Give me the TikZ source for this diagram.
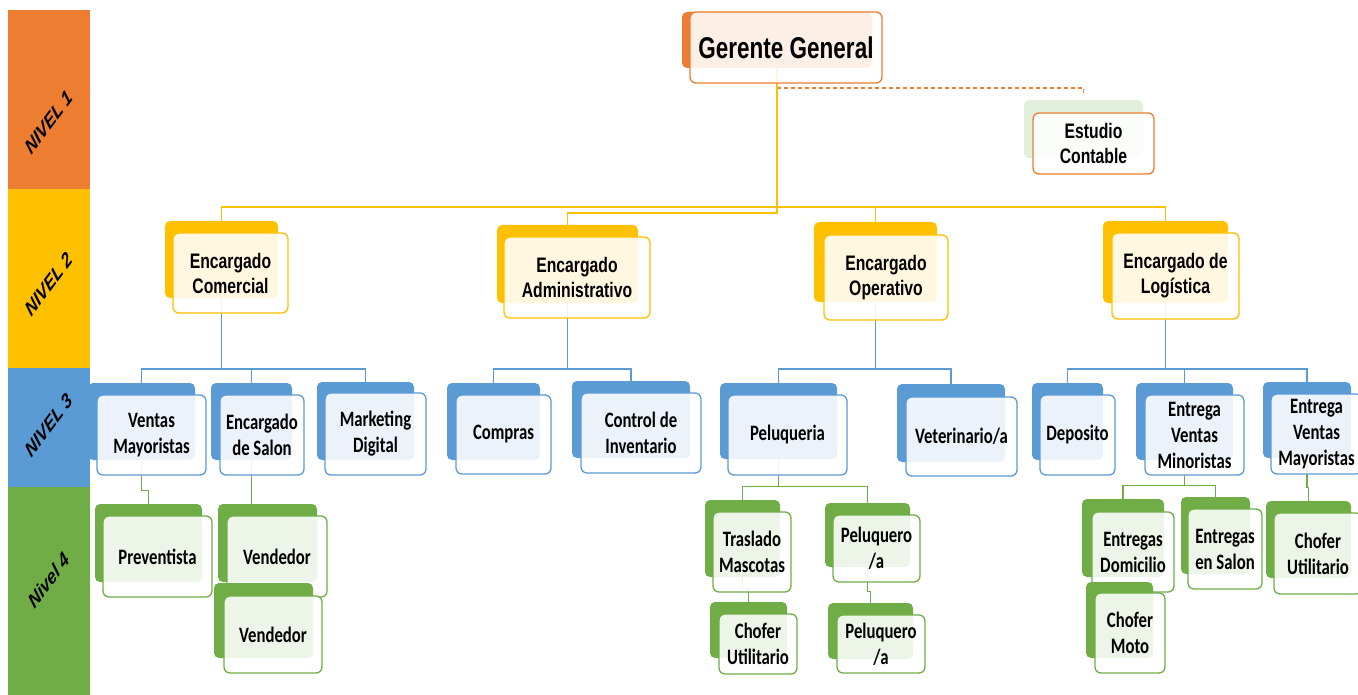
\documentclass[tikz,border=0pt]{standalone}
\usepackage{fontspec}
\usetikzlibrary{fit,calc,backgrounds}
\newfontfamily\arn{Liberation Sans}[FakeStretch=0.75]
\newfontfamily\calib{Carlito}[FakeStretch=0.76]
\newfontfamily\arialf{Liberation Sans}
\definecolor{cor}{HTML}{ED7D31}
\definecolor{cye}{HTML}{FFC000}
\definecolor{cbl}{HTML}{5B9BD5}
\definecolor{cgr}{HTML}{70AD47}
\definecolor{clg}{HTML}{E2EFDA}
\tikzset{
  bk/.style={fill=#1, draw=none, rounded corners=5pt, inner sep=0pt},
  fr/.style={draw=#1, line width=1.3pt, fill=white, fill opacity=0.88, rounded corners=6pt, inner sep=0pt},
  f1/.style={font=\arn\bfseries\fontsize{30}{34}\selectfont},
  f2/.style={font=\arn\bfseries\fontsize{21}{25}\selectfont},
  f3/.style={font=\calib\bfseries\fontsize{22}{26}\selectfont},
  lvl/.style={font=\arialf\bfseries\itshape\fontsize{21}{24}\selectfont, rotate=45, transform shape, inner sep=0pt},
  conn/.style={draw=#1, line width=1.3pt},
}
\newcommand{\obox}[6]{%
  \node[bk=#2, fit={#3}] (#1B) {};
  \node[fr=#2, fit={#4}] (#1) {};
  \node[#5, align=center, inner sep=0pt, anchor=center] (#1T) at (#1.center) {#6};
}
\begin{document}
\begin{tikzpicture}[x=1pt,y=-1pt]
\useasboundingbox (0,0) rectangle (1358,695);
% level 1
\obox{ger}{cor}{(682,12) (872,68)}{(690,12) (882,83)}{f1}{Gerente General}
\node[bk=clg, fit={(1024,100) (1143,158)}] (estB) {};
\node[fr=cor, fit={(1033,113) (1154,174)}] (est) {};
\node[f2, align=center, inner sep=0pt] (estT) at (est.center) {Estudio\\Contable};
% level 2
\obox{com}{cye}{(165,221) (278,298)}{(173,233) (288,313)}{f2}{Encargado\\Comercial}
\obox{adm}{cye}{(497,225) (638,303)}{(504,237) (650,318)}{f2}{Encargado\\Administrativo}
\obox{ope}{cye}{(814,222) (937,302)}{(824,235) (948,320)}{f2}{Encargado\\Operativo}
\obox{log}{cye}{(1103,221) (1228,303)}{(1112,233) (1239,319)}{f2}{Encargado de\\Logística}
% level 3
\obox{ven}{cbl}{(88,383) (195,460)}{(97,395) (206,475)}{f3}{Ventas\\Mayoristas}
\obox{sal}{cbl}{(211,383) (292,460)}{(220,395) (304,475)}{f3}{Encargado\\de Salon}
\obox{mar}{cbl}{(317,382) (414,460)}{(325,393) (426,475)}{f3}{Marketing\\Digital}
\obox{cmp}{cbl}{(447,383) (540,460)}{(456,395) (551,474)}{f3}{Compras}
\obox{inv}{cbl}{(572,381) (690,458)}{(581,393) (701,473)}{f3}{Control de\\Inventario}
\obox{pel}{cbl}{(720,383) (837,459)}{(728,395) (847,475)}{f3}{Peluqueria}
\obox{vet}{cbl}{(897,384) (1005,462)}{(906,397) (1017,476)}{f3}{Veterinario/a}
\obox{dep}{cbl}{(1032,383) (1103,460)}{(1040,395) (1115,475)}{f3}{Deposito}
\obox{evm}{cbl}{(1136,383) (1233,460)}{(1145,395) (1244,475)}{f3}{Entrega\\Ventas\\Minoristas}
\obox{evM}{cbl}{(1263,382) (1351,458)}{(1271,394) (1362,474)}{f3}{Entrega\\Ventas\\Mayoristas}
% level 4
\obox{pre}{cgr}{(95,504) (202,582)}{(103,516) (212,597)}{f3}{Preventista}
\obox{vdA}{cgr}{(218,504) (317,582)}{(227,516) (327,597)}{f3}{Vendedor}
\obox{vdB}{cgr}{(214,583) (313,658)}{(224,596) (322,673)}{f3}{Vendedor}
\obox{tra}{cgr}{(705,500) (780,577)}{(713,512) (791,592)}{f3}{Traslado\\Mascotas}
\obox{cuA}{cgr}{(710,602) (787,658)}{(719,614) (797,674)}{f3}{Chofer\\Utilitario}
\obox{pqA}{cgr}{(825,503) (910,567)}{(833,515) (920,582)}{f3}{Peluquero\\/a}
\obox{pqB}{cgr}{(828,603) (913,659)}{(837,615) (925,673)}{f3}{Peluquero\\/a}
\obox{edo}{cgr}{(1082,499) (1164,577)}{(1092,512) (1174,592)}{f3}{Entregas\\Domicilio}
\obox{cmo}{cgr}{(1086,582) (1153,658)}{(1095,593) (1165,673)}{f3}{Chofer\\Moto}
\obox{esa}{cgr}{(1181,497) (1250,574)}{(1188,509) (1262,589)}{f3}{Entregas\\en Salon}
\obox{cuB}{cgr}{(1266,501) (1351,578)}{(1274,513) (1362,594)}{f3}{Chofer\\Utilitario}
% level labels
\begin{scope}[shift={(48.5,122)}, xscale=0.75]
  \node[lvl] (lv1) {NIVEL 1};
\end{scope}
\begin{scope}[shift={(48.5,284)}, xscale=0.75]
  \node[lvl] (lv2) {NIVEL 2};
\end{scope}
\begin{scope}[shift={(48.5,425)}, xscale=0.75]
  \node[lvl] (lv3) {NIVEL 3};
\end{scope}
\begin{scope}[shift={(48.5,580)}, xscale=0.75]
  \node[lvl] (lv4) {Nivel 4};
\end{scope}
% helper levels
\coordinate (ya) at (0,207);
\coordinate (yb) at (0,213);
\coordinate (yd) at (0,88);
\coordinate (y3) at (0,369);
\begin{pgfonlayer}{background}
  \fill[white] (0,0) rectangle (1358,695);
  \fill[cor] (8,10) rectangle (90,189);
  \fill[cye] (8,189) rectangle (90,368);
  \fill[cbl] (8,368) rectangle (90,487);
  \fill[cgr] (8,487) rectangle (90,695);
  % level 1 -> 2
  \draw[conn=cor, dashed, dash pattern=on 4pt off 3pt] (gerB.center |- yd) -| ($(estB.north)+(0,-6)$);
  \draw[conn=cye] (gerB.center) |- (ya -| comB.north) -- (comB.north);
  \draw[conn=cye] (gerB.center) |- (yb -| admB.north) -- (admB.north);
  \draw[conn=cye] (gerB.center) |- (ya -| opeB.north) -- (opeB.north);
  \draw[conn=cye] (gerB.center) |- (ya -| logB.north) -- (logB.north);
  % level 2 -> 3
  \foreach \p/\c in {com/ven, com/sal, com/mar, adm/cmp, adm/inv, ope/pel, ope/vet, log/dep, log/evm, log/evM}
    \draw[conn=cbl] (\p B.center) |- (y3 -| \c B.north) -- (\c B.north);
  % level 3 -> 4
  \draw[conn=cgr] (venB.center) |- ($(preB.north)+(0,-13)$) -- (preB.north);
  \draw[conn=cgr] (salB.center) -- (salB.center |- vdAB.north);
  \draw[conn=cgr] (pelB.center) |- ($(traB.north)+(0,-13)$) -- (traB.north);
  \draw[conn=cgr] (pelB.center) |- ($(pqAB.north)+(0,-16)$) -- (pqAB.north);
  \draw[conn=cgr] (traB.center) |- ($(cuAB.north)+(0,-13)$) -- (cuAB.north);
  \draw[conn=cgr] (pqAB.center) |- ($(pqBB.north)+(0,-11)$) -- (pqBB.north);
  \draw[conn=cgr] (evmB.center) |- ($(edoB.north)+(0,-13)$) -- (edoB.north);
  \draw[conn=cgr] (evmB.center) |- ($(esaB.north)+(0,-11)$) -- (esaB.north);
  \draw[conn=cgr] (evMB.center) |- ($(cuBB.north)+(0,-13)$) -- (cuBB.north);
\end{pgfonlayer}
\end{tikzpicture}
\end{document}
